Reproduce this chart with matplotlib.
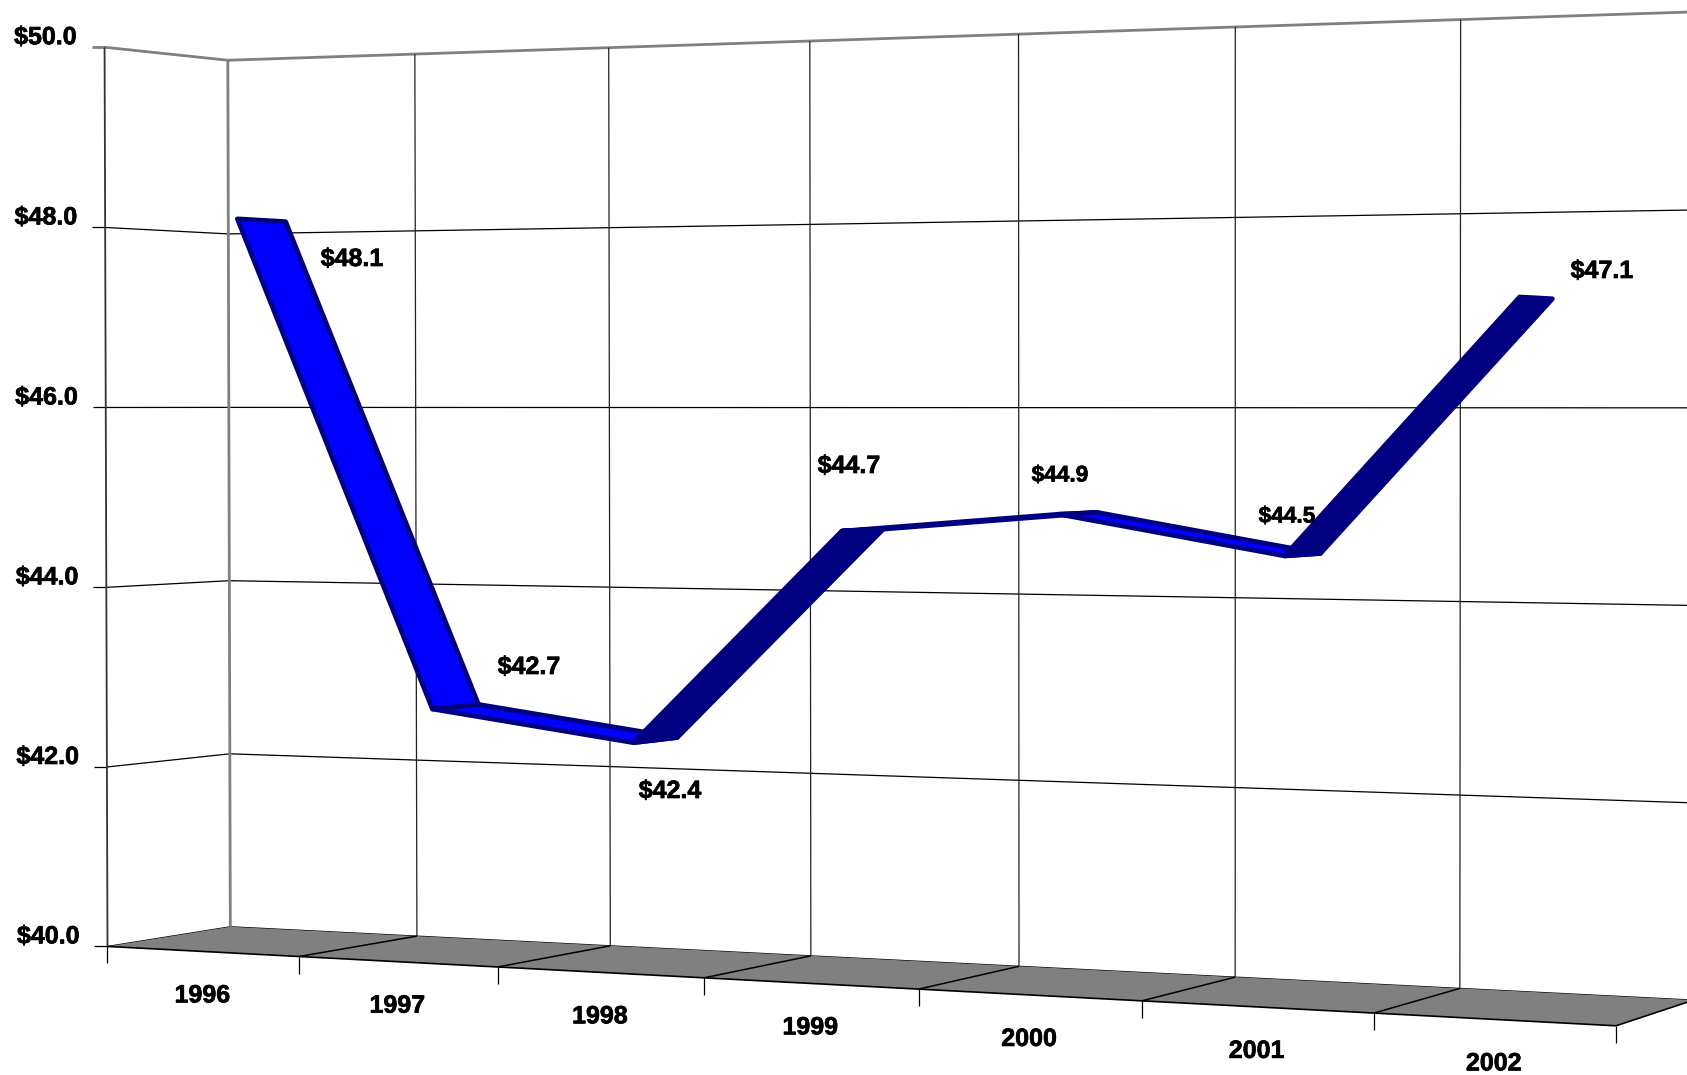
import numpy as np
from matplotlib import pyplot as plt
from matplotlib.patches import Polygon
from matplotlib import patheffects as pe

years = ['1996', '1997', '1998', '1999', '2000', '2001', '2002']
value_ticks = [40, 42, 44, 46, 48, 50]
value_labels = ['$40.0', '$42.0', '$44.0', '$46.0', '$48.0', '$50.0']
values = [48.1, 42.7, 42.4, 44.7, 44.9, 44.5, 47.1]
data_labels = ['$48.1', '$42.7', '$42.4', '$44.7', '$44.9', '$44.5', '$47.1']

# where each data label sits, pixels
label_x = [352, 529, 670, 849, 1060, 1287, 1602]
label_y = [259, 667, 791, 466, 475, 516, 271]
label_size = [18, 18, 18, 18, 16.3, 16.3, 18]

BLUE = '#0000ff'
NAVY = '#000080'
GRAY = '#808080'

# camera: (slot along x, value, depth 0=front 1=back) -> pixels
world = [(0, 40, 0), (0, 50, 0), (0, 40, 1), (0, 50, 1),
         (7, 40, 1), (7, 50, 1), (7, 40, 0)]
pixels = [(107.6, 946.8), (104.4, 47.3), (230.2, 926.4), (228.0, 60.2),
          (1693.5, 1000.6), (1695.0, 11.8), (1616.0, 1025.3)]

rows = []
for (a, b, c), (u, v) in zip(world, pixels):
    p = [a, b, c, 1]
    rows.append(p + [0, 0, 0, 0] + [-u * q for q in p])
    rows.append([0, 0, 0, 0] + p + [-v * q for q in p])
cam = np.linalg.svd(np.array(rows, float))[2][-1].reshape(3, 4)


def proj(i, val, d):
    h = cam @ np.array([i, val, d, 1.0])
    return h[0] / h[2], h[1] / h[2]


fig = plt.figure(figsize=(16.87, 10.75), dpi=100)
ax = fig.add_axes([0, 0, 1, 1])
ax.set_xlim(0, 1687)
ax.set_ylim(1075, 0)
ax.axis('off')
plt.rcParams['font.family'] = ['Liberation Sans', 'DejaVu Sans']
heavy = [pe.withStroke(linewidth=0.5, foreground='black')]


def line(p, q, color='black', lw=0.9, z=2):
    ax.plot([p[0], q[0]], [p[1], q[1]], color=color, lw=lw, zorder=z,
            solid_capstyle='butt')


n = len(years)

# gridlines on both walls
for t, txt in zip(value_ticks, value_labels):
    top = t == 50
    c = GRAY if top else 'black'
    w = 2.0 if top else 0.9
    a, b, e = proj(0, t, 0), proj(0, t, 1), proj(n, t, 1)
    line(a, b, c, w)
    line(b, e, c, w)
    line((a[0] - 13, a[1]), a, c, w)
    ax.text(a[0] - 28, a[1] - 10, txt, ha='right', va='center', fontsize=18,
            fontweight='bold', color='black', zorder=6, path_effects=heavy)

# verticals
line(proj(0, 40, 0), proj(0, 50, 0), '#333333', 1.3)
line(proj(0, 40, 1), proj(0, 50, 1), GRAY, 2.0)
for i in range(1, n):
    line(proj(i, 40, 1), proj(i, 50, 1), '#222222', 0.9)

# floor
floor = [proj(0, 40, 0), proj(0, 40, 1), proj(n, 40, 1), proj(n, 40, 0)]
ax.add_patch(Polygon(floor, closed=True, fc=GRAY, ec='none', zorder=3))
line(proj(0, 40, 0), proj(n, 40, 0), 'black', 1.2, 4)
line(proj(n, 40, 0), proj(n, 40, 1), 'black', 1.2, 4)
for i in range(1, n):
    line(proj(i, 40, 0), proj(i, 40, 1), 'black', 1.1, 4)
for i in range(n + 1):
    a = proj(i, 40, 0)
    line(a, (a[0], a[1] + 17), 'black', 0.9, 4)

for i, y in enumerate(years):
    a = proj(i + 0.5, 40, 0)
    ax.text(a[0], a[1] + 44, y, ha='center', va='center', fontsize=18,
            fontweight='bold', color='black', zorder=6, path_effects=heavy)

# ribbon
D1, D2 = 0.3, 0.7
for i in range(n - 1):
    poly = [proj(i + 0.5, values[i], D1), proj(i + 0.5, values[i], D2),
            proj(i + 1.5, values[i + 1], D2), proj(i + 1.5, values[i + 1], D1)]
    # falling parts show the lit face, rising parts the dark one
    fc = BLUE if values[i + 1] < values[i] else NAVY
    ax.add_patch(Polygon(poly, closed=True, fc=fc, ec=NAVY, lw=3.4,
                         joinstyle='round', zorder=5))

for i, txt in enumerate(data_labels):
    ax.text(label_x[i], label_y[i], txt, ha='center', va='center',
            fontsize=label_size[i], fontweight='bold', color='black', zorder=7,
            path_effects=heavy)

fig.savefig('out.png', dpi=100)
